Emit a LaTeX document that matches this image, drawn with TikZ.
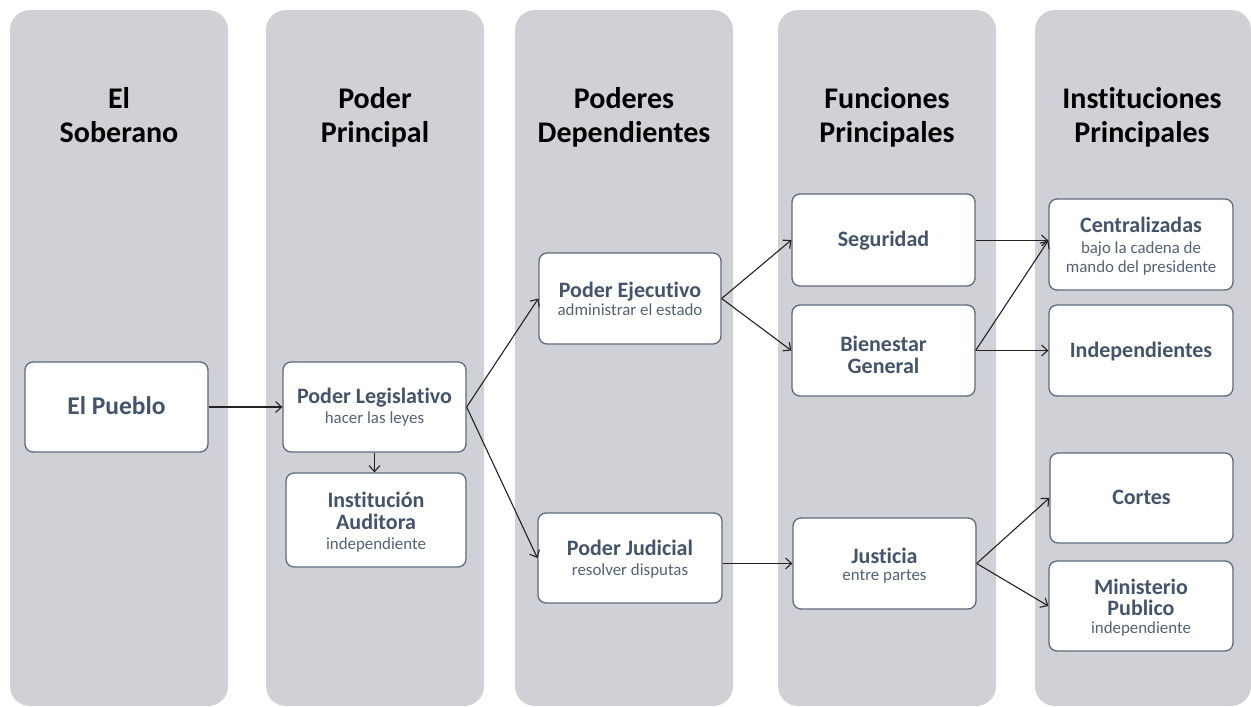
\documentclass[tikz,border=0pt]{standalone}
\usepackage{fontspec}
\setmainfont[Ligatures={NoCommon}]{Carlito}
\usetikzlibrary{arrows.meta}
\definecolor{colgray}{RGB}{208,209,214}
\definecolor{boxline}{RGB}{95,106,124}
\definecolor{boxtext}{RGB}{68,84,106}
\definecolor{subtext}{RGB}{84,98,118}
\definecolor{arrowc}{RGB}{34,34,34}
% first row of a box: fixed height above its baseline, then title text
\newcommand{\fl}[2]{\rule{0pt}{#1pt}\smash{\fontsize{22}{20}\selectfont\bfseries #2}}
% further title row
\newcommand{\tr}[1]{\smash{\fontsize{22}{20}\selectfont\bfseries #1}}
% sub row
\newcommand{\sr}[1]{\smash{\fontsize{16.9}{20}\selectfont\color{subtext}#1}}
\begin{document}
\begin{tikzpicture}[x=1pt,y=-1pt,
  column/.style={fill=colgray, draw=none, rounded corners=20pt},
  heading/.style={font=\fontsize{30}{34}\selectfont\bfseries, text=black, align=center, anchor=base, inner sep=0pt},
  box/.style={draw=boxline, line width=1.3pt, fill=white, rounded corners=8pt, text=boxtext,
    align=center, font=\fontsize{22}{20}\selectfont, inner sep=0pt},
  conn/.style={draw=arrowc, line width=1.1pt, -{Straight Barb[length=6pt,width=11pt,line width=1.1pt]}}
  ]
\useasboundingbox (0,0) rectangle (1251,707);
% columns
\fill[column] (10,10) rectangle (228,706);
\fill[column] (266,10) rectangle (484,706);
\fill[column] (515,10) rectangle (733,706);
\fill[column] (778,10) rectangle (996,706);
\fill[column] (1035,10) rectangle (1251,706);
% headings
\node[heading] (h1) at (119,142) {El\\Soberano};
\node[heading] (h2) at (375,142) {Poder\\Principal};
\node[heading] (h3) at (624,142) {Poderes\\Dependientes};
\node[heading] (h4) at (887,142) {Funciones\\Principales};
\node[heading] (h5) at (1142,142) {Instituciones\\Principales};
% boxes
\node[box, minimum width=183pt, minimum height=90pt] (pueblo) at (116.5,407)
  {\rule{0pt}{14pt}\smash{\fontsize{25.5}{20}\selectfont\bfseries El Pueblo}};
\node[box, minimum width=183pt, minimum height=90pt] (legis) at (374.5,407)
  {\fl{12}{Poder Legislativo}\\\sr{hacer las leyes}};
\node[box, minimum width=180pt, minimum height=94pt] (audit) at (376,520)
  {\fl{16}{Institución}\\[2pt]\tr{Auditora}\\\sr{independiente}};
\node[box, minimum width=182pt, minimum height=91pt] (ejec) at (630,298.5)
  {\fl{15}{Poder Ejecutivo}\\[-2pt]\sr{administrar el estado}};
\node[box, minimum width=184pt, minimum height=90pt] (judic) at (630,558)
  {\fl{14}{Poder Judicial}\\\sr{resolver disputas}};
\node[box, minimum width=183pt, minimum height=92pt] (segur) at (883.5,240)
  {\fl{12}{Seguridad}};
\node[box, minimum width=183pt, minimum height=91pt] (bien) at (883.5,350.5)
  {\fl{23}{Bienestar}\\[2pt]\tr{General}};
\node[box, minimum width=183pt, minimum height=91pt] (justicia) at (884.5,563.5)
  {\fl{16}{Justicia}\\[-3pt]\sr{entre partes}};
\node[box, minimum width=184pt, minimum height=91pt] (central) at (1141,244.5)
  {\fl{15}{Centralizadas}\\[1pt]\sr{bajo la cadena de}\\[-1pt]\sr{mando del presidente}};
\node[box, minimum width=184pt, minimum height=91pt] (indep) at (1141,350.5)
  {\fl{13}{Independientes}};
\node[box, minimum width=183pt, minimum height=90pt] (cortes) at (1141.5,498)
  {\fl{12}{Cortes}};
\node[box, minimum width=184pt, minimum height=90pt] (minis) at (1141,606)
  {\fl{15}{Ministerio}\\[1pt]\tr{Publico}\\[-2pt]\sr{independiente}};
% connectors
\draw[conn] (pueblo.east) -- (legis.west);
\draw[conn] (legis.south) -- (legis.south |- audit.north);
\draw[conn] (legis.east) -- (ejec.west);
\draw[conn] (legis.east) -- (judic.west);
\draw[conn] (ejec.east) -- (segur.west);
\draw[conn] (ejec.east) -- (bien.west);
\coordinate (cin) at ([yshift=4pt]central.west);
\draw[conn] (segur.east |- cin) -- (cin);
\draw[conn] (bien.east) -- (cin);
\draw[conn] (bien.east) -- (indep.west);
\draw[conn] (judic.east |- justicia.west) -- (justicia.west);
\draw[conn] (justicia.east) -- (cortes.west);
\draw[conn] (justicia.east) -- (minis.west);
\end{tikzpicture}
\end{document}
